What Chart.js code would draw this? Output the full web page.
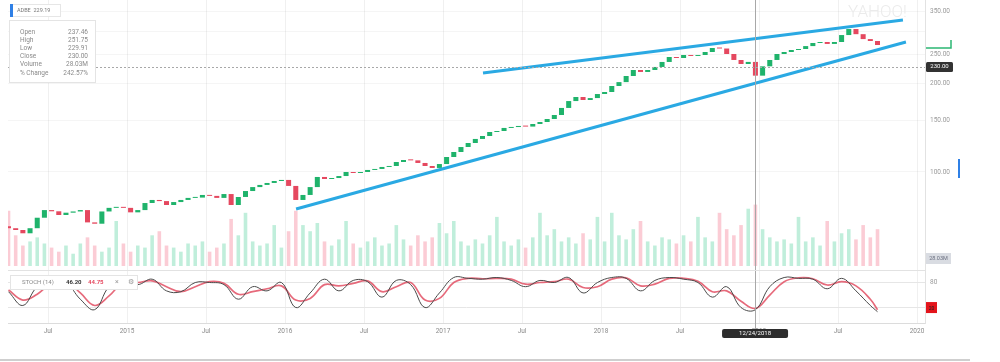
<!DOCTYPE html>
<html>
<head>
<meta charset="utf-8">
<script src="https://cdn.jsdelivr.net/npm/chart.js@4.4.1/dist/chart.umd.min.js"></script>
<style>
html, body { margin: 0; padding: 0; background: #fff; }
#wrap { position: relative; width: 1000px; height: 362px; }
</style>
</head>
<body>
<div id="wrap"><canvas id="c" width="1000" height="362"></canvas></div>
<script>
// candles: one every ~16 days, from spring 2014 to autumn 2019
const startYear = 2014.25;
const candleStep = 1 / 22;

const closes = [
  64.5, 63.6, 62, 64.5, 70, 74.3, 73.6, 71.5, 72.8, 73.5,
  74.3, 67.5, 66.8, 73.5, 75.6, 76.1, 75.6, 73, 74.3, 78.5,
  80.4, 79.7, 77.3, 79.1, 80.4, 81.7, 81.9, 83.6, 83, 81.7,
  84.2, 77.3, 82.3, 86.2, 88.9, 90.4, 91.8, 93.2, 94, 89.7,
  80.4, 83.6, 88.9, 96.2, 94.7, 95.4, 96.9, 100, 99.2, 100,
  101.6, 102.4, 104, 104.8, 108.1, 109.8, 109.5, 107.3, 104.8, 103.2,
  106.4, 112.4, 116.9, 121.5, 125.4, 129.4, 132.4, 136.6, 137.7, 141,
  142, 143.2, 142.5, 145.4, 147.7, 151.2, 156, 164.8, 173.9, 179.5,
  175.3, 178, 183.7, 186.6, 195.6, 201.6, 211.4, 221.6, 218.2, 221.6,
  226.9, 235.9, 245.2, 243.3, 249.1, 247.2, 249.1, 255, 263, 262,
  251, 239.6, 232.2, 236, 212, 228, 239.6, 251, 255, 259,
  261, 267, 273.5, 275.7, 271.5, 275.7, 291, 305, 293, 282,
  277.8, 269.3
];
const opens = [
  65.5, 64.5, 63.6, 62, 64.5, 70, 74.3, 73.6, 71.5, 72.8,
  73.5, 74.3, 67.5, 66.8, 73.5, 75.6, 76.1, 75.6, 73, 74.3,
  78.5, 80.4, 79.7, 77.3, 79.1, 80.4, 81.7, 81.9, 83.6, 83,
  81.7, 84.2, 77.3, 82.3, 86.2, 88.9, 90.4, 91.8, 93.2, 94,
  89.7, 80.4, 83.6, 88.9, 96.2, 94.7, 95.4, 96.9, 100, 99.2,
  100, 101.6, 102.4, 104, 104.8, 108.1, 109.8, 109.5, 107.3, 104.8,
  103.2, 106.4, 112.4, 116.9, 121.5, 125.4, 129.4, 132.4, 136.6, 137.7,
  141, 142, 143.2, 142.5, 145.4, 147.7, 151.2, 156, 164.8, 173.9,
  179.5, 175.3, 178, 183.7, 186.6, 195.6, 201.6, 211.4, 221.6, 218.2,
  221.6, 226.9, 235.9, 245.2, 243.3, 249.1, 247.2, 249.1, 255, 263,
  262, 251, 239.6, 232.2, 236, 212, 228, 239.6, 251, 255,
  259, 261, 267, 273.5, 275.7, 271.5, 275.7, 291, 305, 293,
  282, 277.8
];
// volume in millions
const volumes = [
  27, 15, 10, 12, 14, 11, 9, 7, 10, 6,
  11, 14, 10, 7, 9, 22, 11, 7, 10, 9,
  15, 17, 10, 9, 7, 11, 10, 12, 7, 9,
  11, 23, 15, 26, 12, 10, 11, 20, 9, 17,
  27, 20, 17, 21, 12, 10, 13, 22, 11, 9,
  12, 14, 10, 11, 20, 13, 10, 15, 12, 14,
  21, 16, 22, 12, 10, 13, 11, 15, 24, 12,
  10, 13, 9, 14, 26, 15, 18, 12, 14, 11,
  16, 13, 24, 12, 26, 15, 13, 18, 22, 12,
  10, 14, 13, 11, 15, 12, 24, 14, 12, 26,
  18, 15, 20, 28, 30, 18, 14, 12, 13, 11,
  24, 12, 14, 10, 22, 12, 16, 18, 13, 20,
  14, 18
];
// stochastic (14), one value every two candles
const stochK = [
  58, 25, 70, 85, 80, 40, 15, 70, 85, 75,
  88, 60, 58, 80, 80, 75, 40, 70, 60, 80,
  20, 55, 88, 60, 85, 82, 45, 85, 75, 20,
  55, 92, 90, 88, 92, 85, 70, 85, 80, 92,
  55, 80, 92, 90, 60, 85, 92, 88, 80, 45,
  70, 20, 15, 70, 92, 90, 88, 65, 90, 60,
  25, 10
];
const stochD = [
  62, 38, 52, 78, 83, 55, 25, 48, 80, 80,
  84, 70, 58, 70, 82, 78, 52, 58, 65, 72,
  38, 42, 75, 72, 78, 84, 58, 70, 80, 38,
  42, 80, 90, 89, 90, 88, 76, 80, 82, 88,
  68, 70, 88, 91, 72, 76, 90, 90, 83, 58,
  60, 35, 18, 50, 82, 91, 89, 74, 82, 72,
  40, 15
];

// hand drawn trend lines (year, price)
const upperLine = [{ x: 2017.253, y: 216.5 }, { x: 2019.911, y: 327.3 }];
const lowerLine = [{ x: 2016.07, y: 74.9 }, { x: 2019.93, y: 275.7 }];

const tickYears = [2014.5, 2015, 2015.5, 2016, 2016.5, 2017, 2017.5, 2018, 2018.5, 2019, 2019.5, 2020];
const tickLabels = ["Jul", "2015", "Jul", "2016", "Jul", "2017", "Jul", "2018", "Jul", "2019", "Jul", "2020"];
const priceTicks = [100, 150, 200, 250, 300, 350];

const crossYear = 2018.975;
const crossPrice = 227;
const crossLabel = "230.00";
const crossDate = "12/24/2018";

const infoRows = [
  ["Open", "237.46"],
  ["High", "251.75"],
  ["Low", "229.91"],
  ["Close", "230.00"],
  ["Volume", "28.03M"],
  ["% Change", "242.57%"]
];

const GREEN = "#1fb36b";
const RED = "#e5485f";
const FONT = "Roboto, 'Liberation Sans', sans-serif";

const dateOf = i => startYear + i * candleStep;
const up = closes.map((c, i) => c >= opens[i]);

const candleData = closes.map((c, i) => ({ x: dateOf(i), y: [opens[i], c] }));
const volumeData = volumes.map((v, i) => ({ x: dateOf(i), y: v }));
const kData = stochK.map((v, j) => ({ x: dateOf(Math.min(j * 2, closes.length - 1)), y: v }));
const dData = stochD.map((v, j) => ({ x: dateOf(Math.min(j * 2, closes.length - 1)), y: v }));

function label(ctx, s, x, y, color, size, align, weight) {
    ctx.font = `${weight || 400} ${size}px ${FONT}`;
    ctx.fillStyle = color;
    ctx.textAlign = align || "left";
    ctx.textBaseline = "middle";
    ctx.fillText(s, x, y);
}

const overlay = {
    id: "overlay",
    beforeDatasetsDraw(chart) {
        const ctx = chart.ctx;
        ctx.save();
        label(ctx, "YAHOO!", 848, 13, "#ebebeb", 17, "left", 300);
        ctx.restore();
    },
    afterDraw(chart) {
        const ctx = chart.ctx;
        const xs = chart.scales.x, ps = chart.scales.y, ss = chart.scales.st;
        const area = chart.chartArea;
        const cx = xs.getPixelForValue(crossYear);
        const cy = ps.getPixelForValue(crossPrice);
        ctx.save();

        // crosshair
        ctx.strokeStyle = "#a8a8a8";
        ctx.lineWidth = 1;
        ctx.beginPath();
        ctx.moveTo(Math.round(cx) + 0.5, 0);
        ctx.lineTo(Math.round(cx) + 0.5, 330);
        ctx.stroke();
        ctx.setLineDash([2, 2]);
        ctx.beginPath();
        ctx.moveTo(area.left, Math.round(cy) + 0.5);
        ctx.lineTo(area.right, Math.round(cy) + 0.5);
        ctx.stroke();
        ctx.setLineDash([]);

        // date badge
        ctx.fillStyle = "#2d2d2d";
        ctx.beginPath();
        ctx.roundRect(cx - 33, 329, 66, 9, 2);
        ctx.fill();
        label(ctx, crossDate, cx, 333.5, "#fff", 6, "center");

        // price badge
        ctx.fillStyle = "#333";
        ctx.beginPath();
        ctx.roundRect(926, cy - 5, 27, 10, 1.5);
        ctx.fill();
        label(ctx, crossLabel, 939.5, cy, "#fff", 6, "center");

        // last price marker
        const ly = ps.getPixelForValue(closes[closes.length - 1]) + 3;
        ctx.strokeStyle = "#2bb673";
        ctx.lineWidth = 1.5;
        ctx.beginPath();
        ctx.moveTo(926, ly);
        ctx.lineTo(951, ly);
        ctx.lineTo(951, ly - 8);
        ctx.stroke();

        // volume badge
        ctx.fillStyle = "#d9dce2";
        ctx.fillRect(926, 253, 25, 11);
        label(ctx, "28.03M", 938.5, 258.5, "#6b7080", 5.5, "center");

        // stoch badge
        const sy = ss.getPixelForValue(20);
        ctx.fillStyle = "#e3141b";
        ctx.fillRect(926, sy - 5.5, 11, 11);
        label(ctx, "20", 931.5, sy + 1.5, "#222", 5, "center");

        // blue marker on the right
        ctx.fillStyle = "#2f80e6";
        ctx.fillRect(958, 159, 2, 19);

        // ticker tab
        ctx.fillStyle = "#fff";
        ctx.strokeStyle = "#e6e6e6";
        ctx.lineWidth = 1;
        ctx.fillRect(10, 4, 50, 12);
        ctx.strokeRect(10.5, 4.5, 50, 12);
        ctx.fillStyle = "#2f80e6";
        ctx.fillRect(10, 4, 3, 13);
        label(ctx, "ADBE  229.19", 17, 10.5, "#777", 5.5);

        // info box
        ctx.fillStyle = "#fff";
        ctx.fillRect(9, 20, 86, 62);
        ctx.strokeStyle = "#e4e4e4";
        ctx.strokeRect(9.5, 20.5, 86, 62);
        infoRows.forEach((r, i) => {
            const y = 32 + i * 8.2;
            label(ctx, r[0], 20, y, "#8a8a8a", 6.5);
            label(ctx, r[1], 88, y, "#8a8a8a", 6.5, "right");
        });

        // stoch legend
        ctx.fillStyle = "#fff";
        ctx.fillRect(10, 275, 127, 14);
        ctx.strokeStyle = "#e4e4e4";
        ctx.strokeRect(10.5, 275.5, 127, 14);
        label(ctx, "STOCH (14)", 22, 282.5, "#8a8a8a", 6);
        label(ctx, "46.20", 66, 282.5, "#333", 6, "left", 700);
        label(ctx, "44.75", 88, 282.5, "#e5485f", 6, "left", 700);
        label(ctx, "×", 115, 282.5, "#999", 7);
        label(ctx, "⚙", 128, 282.5, "#999", 7);

        // panel separator
        ctx.strokeStyle = "#e2e2e2";
        ctx.beginPath();
        ctx.moveTo(area.left, Math.round(ss.top) + 0.5);
        ctx.lineTo(area.right, Math.round(ss.top) + 0.5);
        ctx.stroke();

        // page rule
        ctx.fillStyle = "#cfcfcf";
        ctx.fillRect(0, 359, 970, 2);
        ctx.restore();
    }
};

new Chart(document.getElementById("c"), {
    data: {
        datasets: [
            {
                type: "bar",
                data: volumeData,
                yAxisID: "vol",
                grouped: false,
                backgroundColor: up.map(u => u ? "rgba(90,210,160,0.38)" : "rgba(245,120,145,0.38)"),
                barPercentage: 0.5,
                categoryPercentage: 1,
                order: 4
            },
            {
                type: "bar",
                data: candleData,
                yAxisID: "y",
                grouped: false,
                backgroundColor: up.map(u => u ? GREEN : RED),
                barPercentage: 0.7,
                categoryPercentage: 1,
                minBarLength: 1,
                order: 3
            },
            {
                type: "line",
                data: dData,
                yAxisID: "st",
                borderColor: "rgba(226,80,100,0.85)",
                borderWidth: 1.7,
                pointRadius: 0,
                tension: 0.4,
                order: 2
            },
            {
                type: "line",
                data: kData,
                yAxisID: "st",
                borderColor: "#4a4a4a",
                borderWidth: 1,
                pointRadius: 0,
                tension: 0.4,
                order: 1
            },
            {
                type: "line",
                data: upperLine,
                yAxisID: "y",
                borderColor: "#2aa9e3",
                borderWidth: 3,
                pointRadius: 0,
                order: 0
            },
            {
                type: "line",
                data: lowerLine,
                yAxisID: "y",
                borderColor: "#2aa9e3",
                borderWidth: 3,
                pointRadius: 0,
                order: 0
            }
        ]
    },
    options: {
        responsive: false,
        devicePixelRatio: 1,
        animation: false,
        layout: { padding: { left: 8, right: 0, top: 0, bottom: 0 } },
        plugins: { legend: { display: false }, tooltip: { enabled: false } },
        scales: {
            x: {
                type: "linear",
                offset: false,
                min: 2014.2468,
                max: 2020.0506,
                afterBuildTicks: s => { s.ticks = tickYears.map(v => ({ value: v })); },
                afterFit: s => { s.height = 39; },
                ticks: {
                    callback: (v, i) => tickLabels[i],
                    color: "#8a8a8a",
                    font: { family: FONT, size: 6.5 },
                    padding: 4,
                    maxRotation: 0,
                    autoSkip: false
                },
                grid: { color: "rgba(0,0,0,0.06)", drawTicks: false, offset: false },
                border: { color: "#dcdcdc" }
            },
            y: {
                type: "logarithmic",
                position: "right",
                stack: "panels",
                stackWeight: 270,
                min: 46.56,
                max: 382.5,
                afterBuildTicks: s => { s.ticks = priceTicks.map(v => ({ value: v })); },
                afterFit: s => { s.width = 75; s.paddingTop = 0; s.paddingBottom = 0; },
                ticks: {
                    callback: v => v === 300 ? "" : v.toFixed(2),
                    color: "#9a9a9a",
                    font: { family: FONT, size: 6.5 },
                    padding: 5
                },
                grid: { color: "rgba(0,0,0,0.04)", drawTicks: false },
                border: { color: "#e2e2e2" }
            },
            st: {
                type: "linear",
                position: "right",
                stack: "panels",
                stackWeight: 53,
                min: -17,
                max: 110,
                afterBuildTicks: s => { s.ticks = [20, 80].map(v => ({ value: v })); },
                afterFit: s => { s.width = 75; s.paddingTop = 0; s.paddingBottom = 0; },
                ticks: {
                    callback: v => v === 80 ? "80" : "",
                    color: "#9a9a9a",
                    font: { family: FONT, size: 6.5 },
                    padding: 5
                },
                grid: { color: "#e6e6e6", drawTicks: false },
                border: { color: "#e2e2e2" }
            },
            vol: {
                type: "linear",
                display: false,
                min: -27.86,
                max: 130
            }
        }
    },
    plugins: [overlay]
});
</script>
</body>
</html>
